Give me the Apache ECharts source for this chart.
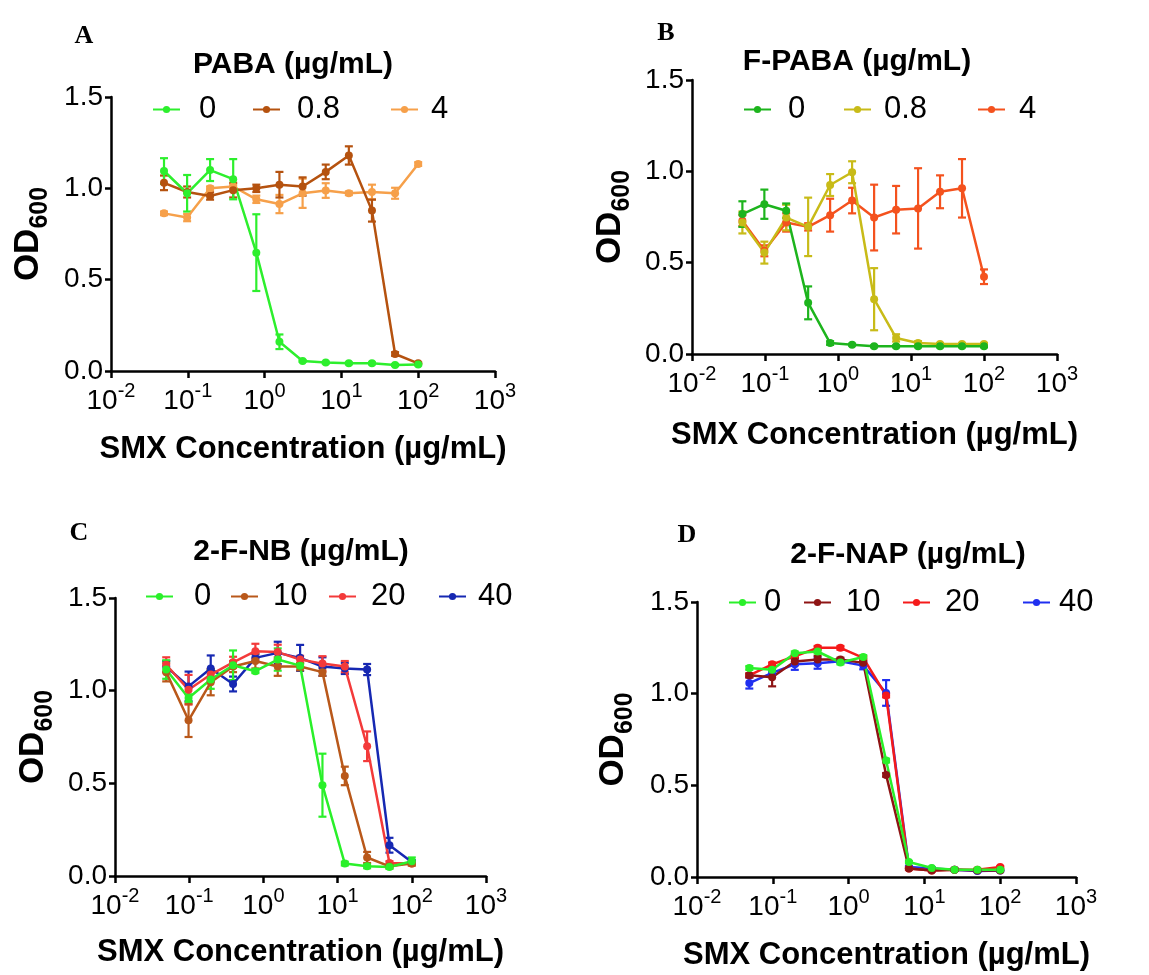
<!DOCTYPE html>
<html>
<head>
<meta charset="utf-8">
<script src="https://cdn.jsdelivr.net/npm/echarts@6/dist/echarts.min.js"></script>
<style>html,body{margin:0;padding:0;background:#fff}#c{width:1149px;height:975px}</style>
</head>
<body>
<div id="c"></div>
<script>
// ---------- DATA ----------
const conc = [0.049, 0.098, 0.195, 0.39, 0.78, 1.56, 3.125, 6.25, 12.5, 25, 50, 100];
const xTicks = [-2, -1, 0, 1, 2, 3];
const panelLetters = ['A', 'B', 'C', 'D'];
const panelTitles = ['PABA (µg/mL)', 'F-PABA (µg/mL)', '2-F-NB (µg/mL)', '2-F-NAP (µg/mL)'];
const legendA = ['0', '0.8', '4'];
const legendB = ['0', '0.8', '4'];
const legendC = ['0', '10', '20', '40'];
const legendD = ['0', '10', '20', '40'];

// Panel A (PABA)
const a0   = [1.095, 0.973, 1.10, 1.05, 0.648, 0.16, 0.055, 0.046, 0.042, 0.042, 0.033, 0.036];
const a0e  = [0.07, 0.10, 0.06, 0.11, 0.21, 0.04, 0.005, 0.005, 0.005, 0.005, 0.005, 0.005];
const a08  = [1.03, 0.98, 0.958, 0.99, 1.0, 1.02, 1.01, 1.09, 1.18, 0.878, 0.093, 0.042];
const a08e = [0.04, 0.03, 0.02, 0.04, 0.02, 0.07, 0.05, 0.04, 0.05, 0.06, 0.01, 0.005];
const a4   = [0.863, 0.84, 1.0, 1.01, 0.94, 0.914, 0.973, 0.988, 0.973, 0.98, 0.973, 1.133];
const a4e  = [0.01, 0.02, 0.01, 0.01, 0.02, 0.05, 0.08, 0.04, 0.01, 0.04, 0.03, 0.01];
// Panel B (F-PABA)
const b0   = [0.766, 0.82, 0.784, 0.28, 0.06, 0.051, 0.042, 0.042, 0.042, 0.042, 0.042, 0.042];
const b0e  = [0.07, 0.08, 0.04, 0.09, 0.01, 0.005, 0.005, 0.005, 0.005, 0.005, 0.005, 0.005];
const b08  = [0.72, 0.555, 0.747, 0.696, 0.925, 0.995, 0.30, 0.088, 0.06, 0.055, 0.055, 0.055];
const b08e = [0.06, 0.06, 0.07, 0.16, 0.06, 0.06, 0.17, 0.02, 0.01, 0.005, 0.005, 0.005];
const b4   = [0.73, 0.565, 0.72, 0.696, 0.76, 0.84, 0.747, 0.79, 0.797, 0.888, 0.907, 0.423];
const b4e  = [0.03, 0.03, 0.05, 0.02, 0.09, 0.07, 0.18, 0.13, 0.22, 0.09, 0.16, 0.04];
// Panel C (2-F-NB)
const c0   = [1.114, 0.96, 1.06, 1.137, 1.105, 1.168, 1.135, 0.49, 0.067, 0.052, 0.049, 0.08];
const c0e  = [0.05, 0.02, 0.05, 0.08, 0.01, 0.06, 0.01, 0.17, 0.01, 0.01, 0.01, 0.02];
const c10  = [1.10, 0.84, 1.045, 1.13, 1.16, 1.13, 1.13, 1.10, 0.54, 0.10, 0.052, 0.067];
const c10e = [0.05, 0.09, 0.07, 0.03, 0.04, 0.05, 0.02, 0.02, 0.05, 0.03, 0.01, 0.01];
const c20  = [1.14, 1.005, 1.087, 1.153, 1.213, 1.208, 1.168, 1.146, 1.13, 0.70, 0.07, 0.067];
const c20e = [0.04, 0.08, 0.03, 0.03, 0.04, 0.04, 0.02, 0.04, 0.03, 0.08, 0.01, 0.01];
const c40  = [1.13, 1.023, 1.12, 1.036, 1.177, 1.204, 1.177, 1.13, 1.12, 1.114, 0.166, 0.076];
const c40e = [0.03, 0.08, 0.07, 0.04, 0.02, 0.06, 0.07, 0.05, 0.03, 0.03, 0.04, 0.01];
// Panel D (2-F-NAP)
const d0   = [1.14, 1.13, 1.22, 1.23, 1.17, 1.20, 0.635, 0.082, 0.049, 0.04, 0.04, 0.04];
const d0e  = [0.01, 0.01, 0.01, 0.01, 0.01, 0.01, 0.01, 0.005, 0.005, 0.005, 0.005, 0.005];
const d10  = [1.10, 1.09, 1.175, 1.186, 1.186, 1.168, 0.557, 0.046, 0.036, 0.04, 0.036, 0.036];
const d10e = [0.01, 0.05, 0.02, 0.02, 0.01, 0.01, 0.01, 0.005, 0.005, 0.005, 0.005, 0.005];
const d20  = [1.10, 1.16, 1.204, 1.25, 1.25, 1.195, 0.99, 0.046, 0.036, 0.04, 0.04, 0.055];
const d20e = [0.01, 0.01, 0.01, 0.01, 0.01, 0.01, 0.01, 0.005, 0.005, 0.005, 0.005, 0.005];
const d40  = [1.058, 1.113, 1.16, 1.166, 1.177, 1.153, 1.004, 0.055, 0.046, 0.04, 0.033, 0.036];
const d40e = [0.03, 0.01, 0.03, 0.03, 0.01, 0.02, 0.07, 0.005, 0.005, 0.005, 0.005, 0.005];

// ---------- LAYOUT / STYLE ----------
const FONT = 'Liberation Sans, Arial, sans-serif';
const grids = [
  {left: 111, top: 97, width: 384, height: 274},
  {left: 692, top: 80, width: 365, height: 274},
  {left: 115, top: 598, width: 371, height: 278},
  {left: 697, top: 602, width: 379, height: 275}
];
const xNameGap = [63, 66, 61, 63];
const yNameGap = [58, 57, 57, 59];
const letterPos = [[84, 36], [666, 33], [79, 533], [687, 535]];
const titlePos = [[293, 65], [857, 62], [301, 552], [908, 555]];

const panels = [
  {series: [
    {label: legendA[2], y: a4, e: a4e, color: '#f6a04a', lx: 390, ly: 110, gap: 8},
    {label: legendA[1], y: a08, e: a08e, color: '#b5520f', lx: 252, ly: 110, gap: 12},
    {label: legendA[0], y: a0, e: a0e, color: '#2def2d', lx: 152, ly: 110, gap: 14}
  ]},
  {series: [
    {label: legendB[2], y: b4, e: b4e, color: '#f4521e', lx: 977, ly: 110, gap: 9},
    {label: legendB[1], y: b08, e: b08e, color: '#c8bb18', lx: 843, ly: 110, gap: 8},
    {label: legendB[0], y: b0, e: b0e, color: '#1db41d', lx: 743, ly: 110, gap: 12}
  ]},
  {series: [
    {label: legendC[3], y: c40, e: c40e, color: '#1628b2', lx: 438, ly: 597, gap: 7},
    {label: legendC[2], y: c20, e: c20e, color: '#f33a3a', lx: 328, ly: 597, gap: 10},
    {label: legendC[1], y: c10, e: c10e, color: '#b9581a', lx: 230, ly: 597, gap: 10},
    {label: legendC[0], y: c0, e: c0e, color: '#2af02a', lx: 145, ly: 597, gap: 16}
  ]},
  {series: [
    {label: legendD[3], y: d40, e: d40e, color: '#1f2ff0', lx: 1022, ly: 603, gap: 4},
    {label: legendD[2], y: d20, e: d20e, color: '#f51a1a', lx: 902, ly: 603, gap: 10},
    {label: legendD[1], y: d10, e: d10e, color: '#8e1414', lx: 803, ly: 603, gap: 10},
    {label: legendD[0], y: d0, e: d0e, color: '#2af02a', lx: 728, ly: 603, gap: 3}
  ]}
];

const xAxes = [], yAxes = [], series = [], legends = [], graphics = [];
const nameMap = {};

panels.forEach((p, i) => {
  xAxes.push({
    type: 'log', logBase: 10, min: 0.01, max: 1000, gridIndex: i,
    axisLine: {show: true, lineStyle: {color: '#000', width: 2.5}},
    axisTick: {show: true, inside: false, length: 7, lineStyle: {color: '#000', width: 2.5}},
    minorTick: {show: false}, splitLine: {show: false},
    axisLabel: {
      margin: 10, color: '#000',
      formatter: v => '{b|10}{s|' + Math.round(Math.log10(v)) + '}',
      rich: {
        b: {fontFamily: FONT, fontSize: 28, lineHeight: 34, verticalAlign: 'bottom', color: '#000'},
        s: {fontFamily: FONT, fontSize: 20, lineHeight: 20, verticalAlign: 'top', color: '#000'}
      }
    },
    name: 'SMX Concentration (µg/mL)', nameLocation: 'middle', nameGap: xNameGap[i],
    nameTextStyle: {fontFamily: FONT, fontSize: 31, fontWeight: 'bold', color: '#000'}
  });
  yAxes.push({
    type: 'value', min: 0, max: 1.5, interval: 0.5, gridIndex: i,
    axisLine: {show: true, lineStyle: {color: '#000', width: 2.5}},
    axisTick: {show: true, inside: false, length: 6, lineStyle: {color: '#000', width: 2.5}},
    splitLine: {show: false},
    axisLabel: {margin: 8, color: '#000', fontFamily: FONT, fontSize: 28, formatter: v => v.toFixed(1)},
    name: '{a|OD}{b|600}', nameLocation: 'middle', nameGap: yNameGap[i], nameRotate: 90,
    nameTextStyle: {
      rich: {
        a: {fontFamily: FONT, fontSize: 35, fontWeight: 'bold', lineHeight: 42, verticalAlign: 'top', color: '#000'},
        b: {fontFamily: FONT, fontSize: 25, fontWeight: 'bold', lineHeight: 25, verticalAlign: 'bottom', color: '#000'}
      }
    }
  });
  p.series.forEach((s, k) => {
    const id = panelLetters[i] + '_' + s.label;
    nameMap[id] = s.label;
    series.push({
      type: 'custom', name: id + '_err', xAxisIndex: i, yAxisIndex: i,
      data: conc.map((x, j) => [x, s.y[j] - s.e[j], s.y[j] + s.e[j]]),
      encode: {x: 0, y: [1, 2]},
      silent: true, z: 2,
      renderItem: (params, api) => {
        const x = api.value(0);
        const p1 = api.coord([x, api.value(1)]);
        const p2 = api.coord([x, api.value(2)]);
        const w = 4;
        const st = {stroke: s.color, lineWidth: 2.2};
        return {type: 'group', children: [
          {type: 'line', shape: {x1: p1[0], y1: p1[1], x2: p2[0], y2: p2[1]}, style: st},
          {type: 'line', shape: {x1: p1[0] - w, y1: p1[1], x2: p1[0] + w, y2: p1[1]}, style: st},
          {type: 'line', shape: {x1: p2[0] - w, y1: p2[1], x2: p2[0] + w, y2: p2[1]}, style: st}
        ]};
      }
    });
    series.push({
      type: 'line', name: id, xAxisIndex: i, yAxisIndex: i,
      data: conc.map((x, j) => [x, s.y[j]]),
      symbol: 'circle', symbolSize: 8, showSymbol: true,
      lineStyle: {color: s.color, width: 2.5}, itemStyle: {color: s.color},
      z: 3, animation: false
    });
    legends.push({
      data: [id], left: s.lx, top: s.ly - 16, padding: 0,
      itemWidth: 27, itemHeight: 9, selectedMode: false,
      formatter: n => nameMap[n],
      textStyle: {fontFamily: FONT, fontSize: 31, color: '#000', padding: [0, 0, 0, s.gap]}
    });
  });
  graphics.push({type: 'text', x: letterPos[i][0], y: letterPos[i][1],
    style: {text: panelLetters[i], font: 'bold 26px "Liberation Serif", "Times New Roman", serif', fill: '#000', textAlign: 'center', textVerticalAlign: 'middle'}});
  graphics.push({type: 'text', x: titlePos[i][0], y: titlePos[i][1],
    style: {text: panelTitles[i], font: 'bold 30px ' + FONT, fill: '#000', textAlign: 'center', textVerticalAlign: 'middle'}});
});

const chart = echarts.init(document.getElementById('c'));
chart.setOption({
  animation: false,
  backgroundColor: '#fff',
  grid: grids,
  xAxis: xAxes,
  yAxis: yAxes,
  legend: legends,
  series: series,
  graphic: graphics
});
</script>
</body>
</html>
